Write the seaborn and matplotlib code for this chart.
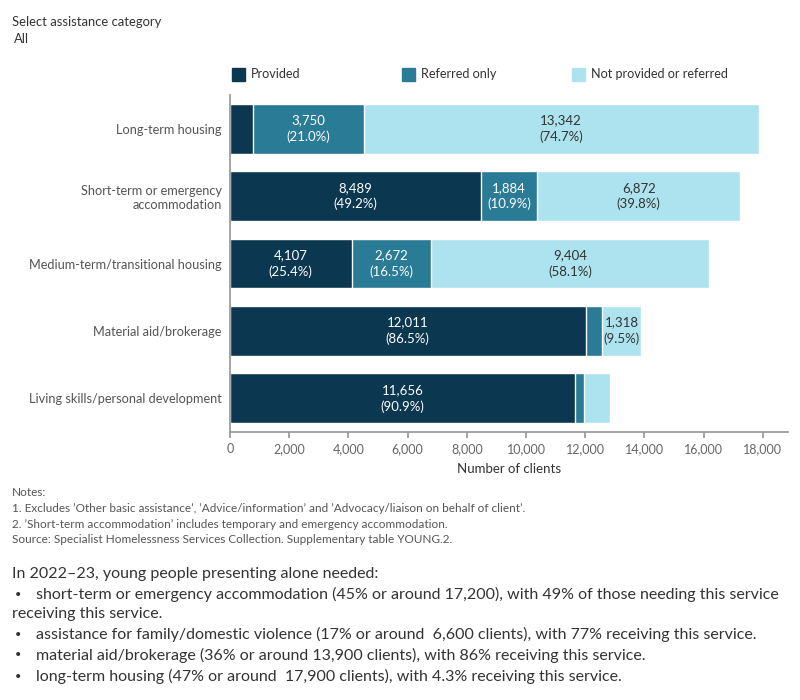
import matplotlib
matplotlib.use("Agg")
import matplotlib.pyplot as plt
import seaborn as sns
import pandas as pd
import numpy as np

categories = [
    "Long-term housing",
    "Short-term or emergency\naccommodation",
    "Medium-term/transitional housing",
    "Material aid/brokerage",
    "Living skills/personal development",
]
provided = [768, 8489, 4107, 12011, 11656]
referred_only = [3750, 1884, 2672, 556, 290]
not_provided = [13342, 6872, 9404, 1318, 877]
series_names = ["Provided", "Referred only", "Not provided or referred"]
x_ticks = [0, 2000, 4000, 6000, 8000, 10000, 12000, 14000, 16000, 18000]

colors = ["#0b3750", "#2a7b96", "#ade3ee"]
text_colors = ["white", "white", "#333333"]

sns.set_theme(style="white")
plt.rcParams["font.family"] = ["Lato", "DejaVu Sans"]

df = pd.DataFrame({
    "category": categories,
    "provided": provided,
    "referred": referred_only,
    "notprov": not_provided,
})
df["c1"] = df["provided"]
df["c2"] = df["provided"] + df["referred"]
df["c3"] = df["c2"] + df["notprov"]
totals = df["c3"].values

fig = plt.figure(figsize=(8, 7), dpi=100)
ax = fig.add_axes([230 / 800, 1 - 432 / 700, (788 - 230) / 800, (432 - 95) / 700])

for col, c in zip(["c3", "c2", "c1"], colors[::-1]):
    sns.barplot(data=df, x=col, y="category", orient="h", color=c,
                width=0.74, saturation=1, ax=ax, order=categories)

# labels
segs = [provided, referred_only, not_provided]
for i in range(len(categories)):
    left = 0
    for s in range(3):
        v = segs[s][i]
        if v >= 1000:
            pct = v / totals[i] * 100
            ax.text(left + v / 2, i, f"{v:,}\n({pct:.1f}%)", ha="center", va="center",
                    color=text_colors[s], fontsize=9.5, linespacing=1.4)
        left += v

ax.set_xlim(0, 18850)
ax.set_ylim(4.5, -0.5)
ax.set_xticks(x_ticks)
ax.set_xticklabels([f"{t:,}" for t in x_ticks], color="#666666", fontsize=9)
ax.set_xlabel("Number of clients", fontsize=9.5, color="#333333", labelpad=6)
ax.set_ylabel("")
ax.tick_params(axis="y", labelsize=9.2, colors="#555555", length=0, pad=6)
ax.tick_params(axis="x", length=4, color="#999999", pad=4, bottom=True)
for lbl in ax.get_yticklabels():
    lbl.set_horizontalalignment("right")
for sp in ["top", "right"]:
    ax.spines[sp].set_visible(False)
ax.spines["left"].set_color("#999999")
ax.spines["bottom"].set_color("#999999")
ax.grid(False)

# legend
leg_x = [232, 402, 572]
for x0, name, c in zip(leg_x, series_names, colors):
    fig.patches.append(plt.Rectangle((x0 / 800, 1 - 81 / 700), 13 / 800, 13 / 700,
                                     transform=fig.transFigure, color=c))
    fig.text((x0 + 19) / 800, 1 - 74 / 700, name, fontsize=9.1, color="#333333", va="center")

fig.text(12 / 800, 1 - 22 / 700, "Select assistance category", fontsize=9.4, color="#333333", va="center")
fig.text(14 / 800, 1 - 39 / 700, "All", fontsize=9.4, color="#333333", va="center")

notes = [
    "Notes:",
    "1. Excludes \u2019Other basic assistance\u2019, \u2019Advice/information\u2019 and \u2019Advocacy/liaison on behalf of client\u2019.",
    "2. \u2019Short-term accommodation\u2019 includes temporary and emergency accommodation.",
    "Source: Specialist Homelessness Services Collection. Supplementary table YOUNG.2.",
]
for k, t in enumerate(notes):
    fig.text(12 / 800, 1 - (493 + 15.5 * k) / 700, t, fontsize=8.5, color="#555555", va="center")

fig.text(12 / 800, 1 - 574 / 700, "In 2022\u201323, young people presenting alone needed:",
         fontsize=11.5, color="#333333", va="center")
body = [
    (594, True, "short-term or emergency accommodation (45% or around 17,200), with 49% of those needing this service"),
    (614, False, "receiving this service."),
    (634, True, "assistance for family/domestic violence (17% or around  6,600 clients), with 77% receiving this service."),
    (655, True, "material aid/brokerage (36% or around 13,900 clients), with 86% receiving this service."),
    (676, True, "long-term housing (47% or around  17,900 clients), with 4.3% receiving this service."),
]
for y, bullet, t in body:
    if bullet:
        fig.text(15 / 800, 1 - y / 700, "\u2022", fontsize=8, color="#333333", va="center")
        fig.text(36 / 800, 1 - y / 700, t, fontsize=11.5, color="#333333", va="center")
    else:
        fig.text(12 / 800, 1 - y / 700, t, fontsize=11.5, color="#333333", va="center")

fig.savefig("out.png", dpi=100)
